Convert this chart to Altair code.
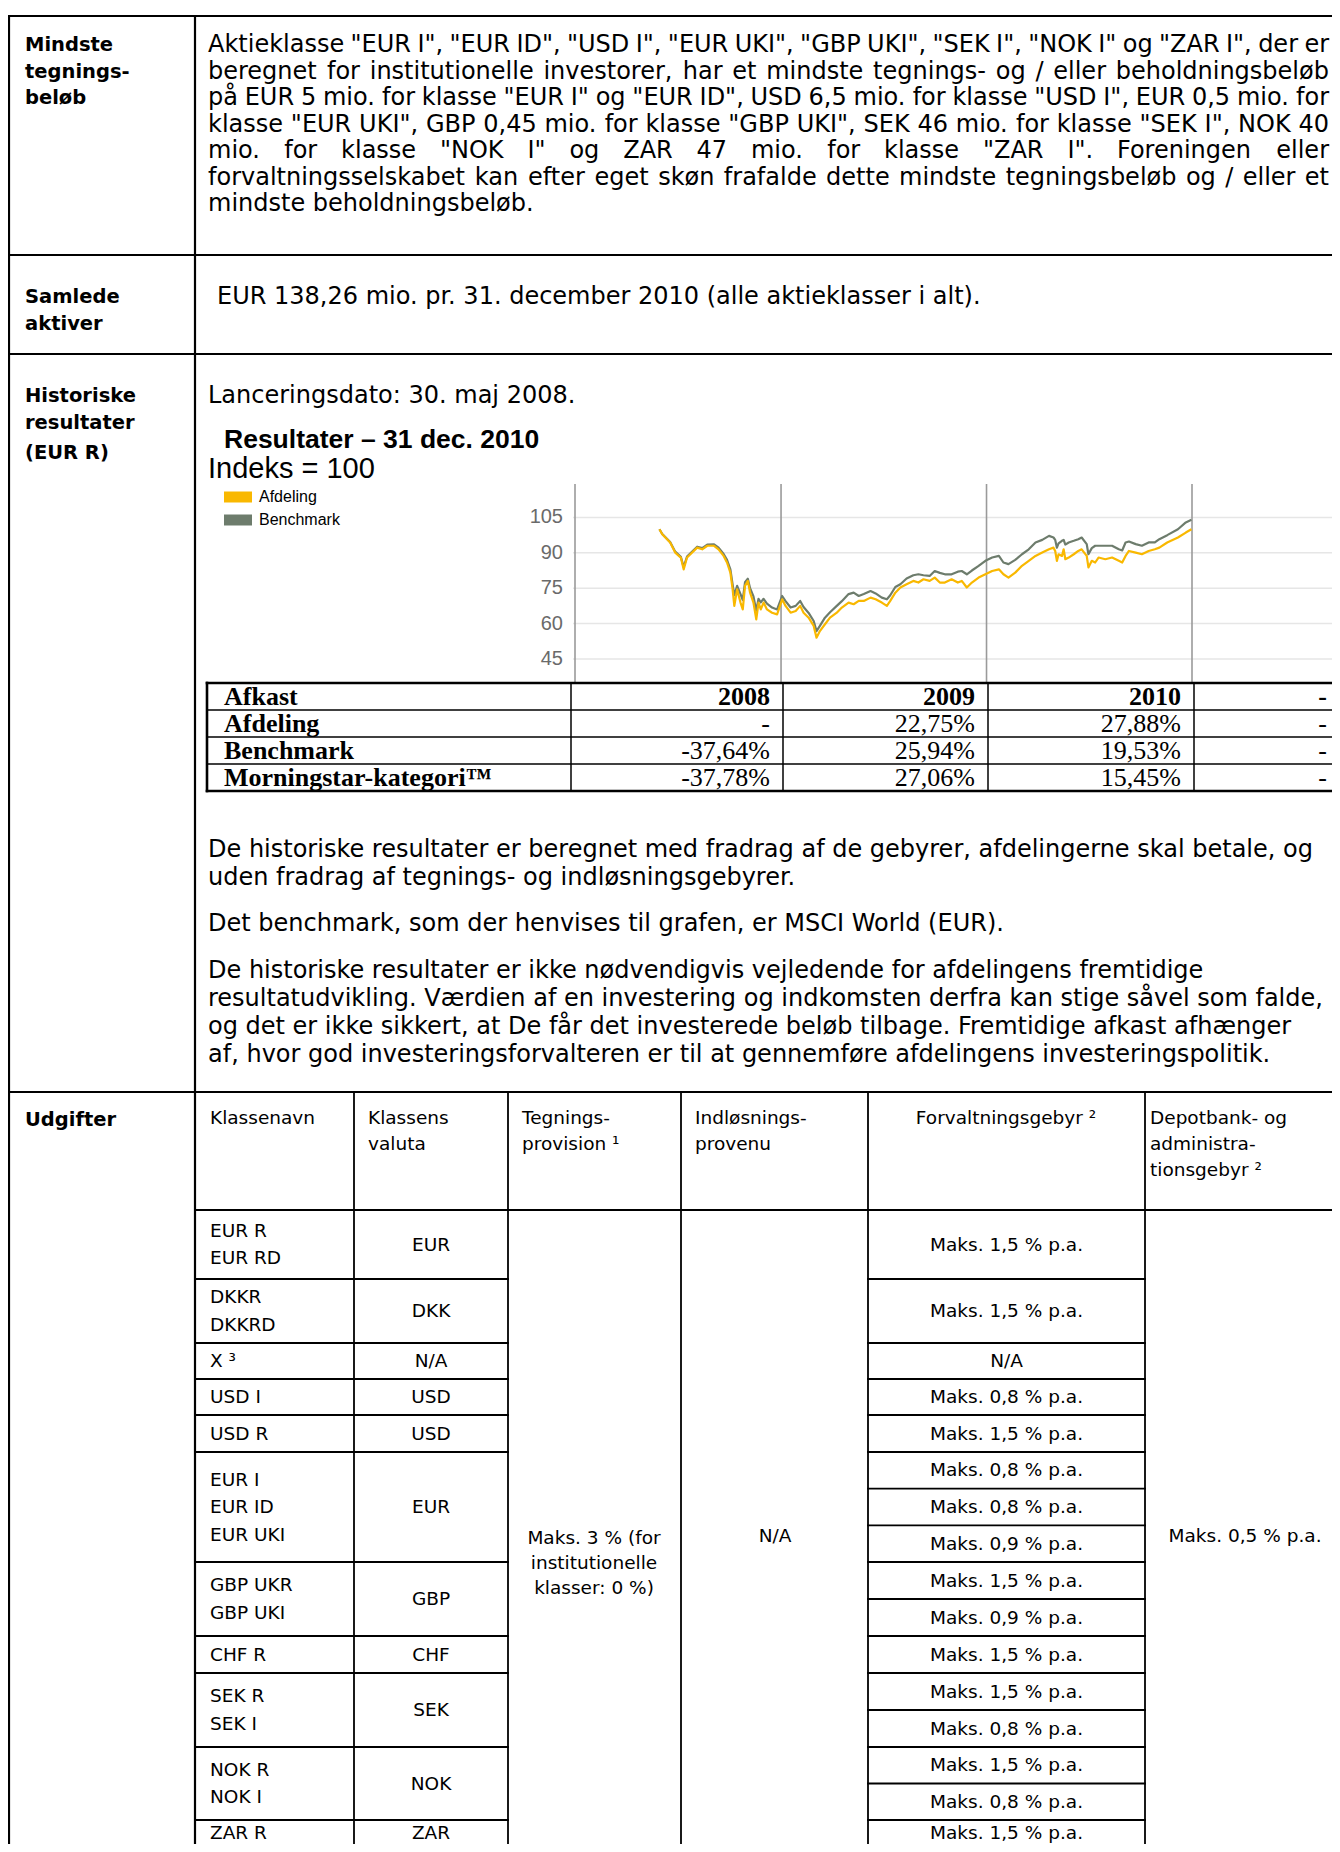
import altair as alt
import pandas as pd

# ------------------------------------------------------------------ page frame
PAGE_W, PAGE_H = 1324, 1836
M = 8
BODY = "DejaVu Sans"
ARIAL = "Liberation Sans"
TIMES = "Liberation Serif"
BODY_SIZE = 24
TBL_SIZE = 18.5

# ------------------------------------------------------------------ chart data
dates = ["2008-05-30","2008-06-04","2008-06-18","2008-06-27","2008-07-07","2008-07-12","2008-07-18","2008-07-24",
         "2008-08-05","2008-08-14","2008-08-23","2008-09-04","2008-09-12","2008-09-21","2008-09-27","2008-10-03",
         "2008-10-07","2008-10-10","2008-10-15","2008-10-21","2008-10-25","2008-10-29","2008-11-03","2008-11-07",
         "2008-11-13","2008-11-18","2008-11-22","2008-11-26","2008-12-01","2008-12-07","2008-12-16","2008-12-25",
         "2009-01-03","2009-01-09","2009-01-18","2009-01-27","2009-02-04","2009-02-10","2009-02-19","2009-02-28",
         "2009-03-05","2009-03-11","2009-03-20","2009-03-29","2009-04-10","2009-04-19","2009-05-01","2009-05-10",
         "2009-05-19","2009-05-28","2009-06-09","2009-06-18","2009-06-29","2009-07-08","2009-07-14","2009-07-23",
         "2009-08-01","2009-08-12","2009-08-24","2009-09-02","2009-09-11","2009-09-22","2009-10-01","2009-10-10",
         "2009-10-19","2009-10-31","2009-11-11","2009-11-18","2009-11-27","2009-12-06","2009-12-18","2009-12-30",
         "2010-01-11","2010-01-23","2010-01-31","2010-02-09","2010-02-21","2010-03-05","2010-03-17","2010-03-29",
         "2010-04-10","2010-04-22","2010-04-30","2010-05-03","2010-05-06","2010-05-09","2010-05-15","2010-05-18",
         "2010-05-21","2010-05-27","2010-06-05","2010-06-13","2010-06-19","2010-06-28","2010-07-01","2010-07-07",
         "2010-07-13","2010-07-19","2010-07-31","2010-08-12","2010-08-24","2010-08-30","2010-09-05","2010-09-11",
         "2010-09-23","2010-10-04","2010-10-16","2010-10-27","2010-11-04","2010-11-18","2010-12-07","2010-12-21",
         "2010-12-31"]
afdeling = [100.0, 97.9, 94.4, 90.1, 88.0, 83.0, 88.0, 89.4, 92.2, 91.5, 93.0, 93.0, 91.5, 88.7, 85.9, 81.6,
            74.5, 67.5, 74.5, 68.9, 66.0, 76.0, 78.1, 73.1, 68.9, 61.8, 68.9, 66.0, 68.9, 66.0, 64.6, 63.9,
            70.3, 67.5, 64.6, 65.3, 67.5, 64.6, 62.5, 59.0, 54.0, 56.8, 59.7, 62.5, 64.6, 66.8, 68.9, 68.2,
            69.6, 69.6, 71.0, 70.3, 68.9, 67.5, 69.6, 73.1, 75.3, 76.7, 78.1, 77.4, 78.8, 78.1, 79.5, 77.4,
            77.4, 78.8, 77.4, 78.1, 75.3, 77.4, 79.5, 80.9,
            82.3, 83.0, 80.9, 79.5, 81.6, 84.5, 86.6, 88.7, 90.1, 91.5, 92.2, 90.8, 86.6, 89.4, 88.7, 91.5,
            87.3, 88.0, 89.4, 90.8, 91.5, 88.7, 83.8, 86.6, 85.9, 88.0, 87.3, 88.0, 86.6, 85.9, 88.7, 90.8,
            90.1, 89.4, 90.8, 91.5, 92.2, 94.4, 96.5, 98.6, 100.0]
benchmark = [100.0, 98.0, 94.6, 90.5, 88.3, 84.0, 88.4, 89.8, 92.6, 92.0, 93.5, 93.6, 92.2, 89.5, 87.0, 83.0,
             76.5, 72.0, 76.0, 72.5, 70.0, 77.5, 79.0, 75.0, 71.5, 65.5, 70.5, 69.0, 70.5, 68.5, 66.8, 66.0,
             71.7, 69.5, 66.8, 67.5, 69.6, 67.0, 64.5, 61.1, 56.8, 59.0, 62.5, 64.8, 67.5, 69.5, 72.5, 73.1,
             71.7, 72.5, 73.8, 72.8, 71.0, 70.3, 72.0, 75.5, 76.7, 79.1, 80.5, 80.9, 80.5, 80.2, 82.3, 81.5,
             80.9, 80.9, 82.0, 82.3, 80.9, 82.5, 84.5, 86.6,
             88.0, 88.7, 85.9, 85.2, 87.0, 89.4, 91.5, 94.4, 95.5, 97.2, 96.5, 95.5, 92.2, 94.0, 95.1, 95.5,
             93.5, 94.4, 95.1, 95.8, 96.5, 93.7, 89.4, 92.0, 93.0, 93.0, 93.0, 93.0, 91.5, 91.0, 94.4, 94.8,
             93.7, 93.0, 94.4, 94.4, 95.8, 97.5, 100.0, 102.9, 104.0]
series_names = ["Afdeling", "Benchmark"]
series_colors = ["#F9B800", "#6D7C6C"]
year_lines = ["2008-01-01", "2009-01-01", "2010-01-01", "2011-01-01"]
y_ticks = [105, 90, 75, 60, 45]

# ------------------------------------------------------------------ table data
afkast_header = ["2008", "2009", "2010", "-"]
afkast_labels = ["Afdeling", "Benchmark", "Morningstar-kategori\u2122"]
afkast_values = [["-", "22,75%", "27,88%", "-"],
                 ["-37,64%", "25,94%", "19,53%", "-"],
                 ["-37,78%", "27,06%", "15,45%", "-"]]

class_names = [["EUR R", "EUR RD"], ["DKKR", "DKKRD"], ["X \u00b3"], ["USD I"], ["USD R"],
               ["EUR I", "EUR ID", "EUR UKI"], ["GBP UKR", "GBP UKI"], ["CHF R"], ["SEK R", "SEK I"],
               ["NOK R", "NOK I"], ["ZAR R"]]
currencies = ["EUR", "DKK", "N/A", "USD", "USD", "EUR", "GBP", "CHF", "SEK", "NOK", "ZAR"]
mgmt_fees = [["Maks. 1,5 % p.a."], ["Maks. 1,5 % p.a."], ["N/A"], ["Maks. 0,8 % p.a."], ["Maks. 1,5 % p.a."],
             ["Maks. 0,8 % p.a.", "Maks. 0,8 % p.a.", "Maks. 0,9 % p.a."],
             ["Maks. 1,5 % p.a.", "Maks. 0,9 % p.a."], ["Maks. 1,5 % p.a."],
             ["Maks. 1,5 % p.a.", "Maks. 0,8 % p.a."], ["Maks. 1,5 % p.a.", "Maks. 0,8 % p.a."],
             ["Maks. 1,5 % p.a."]]
subscription_fee = ["Maks. 3 % (for", "institutionelle", "klasser: 0 %)"]
redemption = "N/A"
depot_fee = "Maks. 0,5 % p.a."

row1_lines = [
    'Aktieklasse "EUR I", "EUR ID", "USD I", "EUR UKI", "GBP UKI", "SEK I", "NOK I" og "ZAR I", der er',
    'beregnet for institutionelle investorer, har et mindste tegnings- og / eller beholdningsbeløb',
    'på EUR 5 mio. for klasse "EUR I" og "EUR ID", USD 6,5 mio. for klasse "USD I", EUR 0,5 mio. for',
    'klasse "EUR UKI", GBP 0,45 mio. for klasse "GBP UKI", SEK 46 mio. for klasse "SEK I", NOK 40',
    'mio. for klasse "NOK I" og ZAR 47 mio. for klasse "ZAR I". Foreningen eller',
    'forvaltningsselskabet kan efter eget skøn frafalde dette mindste tegningsbeløb og / eller et',
    'mindste beholdningsbeløb.',
]
para_lines = [
    "De historiske resultater er beregnet med fradrag af de gebyrer, afdelingerne skal betale, og",
    "uden fradrag af tegnings- og indløsningsgebyrer.",
    "Det benchmark, som der henvises til grafen, er MSCI World (EUR).",
    "De historiske resultater er ikke nødvendigvis vejledende for afdelingens fremtidige",
    "resultatudvikling. Værdien af en investering og indkomsten derfra kan stige såvel som falde,",
    "og det er ikke sikkert, at De får det investerede beløb tilbage. Fremtidige afkast afhænger",
    "af, hvor god investeringsforvalteren er til at gennemføre afdelingens investeringspolitik.",
]

# ------------------------------------------------------------------ layout (page px)
TOP, R1B, R2B, R3B, BOT = 16, 255, 354, 1092, 1860
LEFT, DIV, RIGHT = 9, 195, 1345
CH_TOP, CH_BOT = 484, 683
AFK_ROWS = [683, 710, 737, 764, 791]
AFK_COLS = [207, 571, 783, 988, 1194, 1345]
UDG_COLS = [195, 354, 508, 681, 868, 1145, 1345]
UDG_HEAD_B = 1210
UDG_GROUPS = [1210, 1279, 1343, 1379, 1415, 1452, 1562, 1636, 1673, 1747, 1820, 1857]
ROW1_Y0, ROW1_DY = 45, 26.5

# DejaVu Sans advance widths (em) for justification
CW = {" ": .318, '"': .46, "%": .95, "(": .39, ")": .39, ",": .318, "-": .361, ".": .318, "/": .337, ":": .337}
CW.update({d: .636 for d in "0123456789"})
CW.update(dict(zip("ABCDEFGHIJKLMNOPQRSTUVWXYZ",
                   [.684, .686, .698, .770, .632, .575, .775, .752, .295, .295, .656, .557, .863, .748, .787,
                    .603, .787, .695, .635, .611, .732, .684, .989, .685, .611, .685])))
CW.update(dict(zip("abcdefghijklmnopqrstuvwxyz",
                   [.613, .635, .550, .635, .615, .352, .635, .634, .278, .278, .579, .278, .974, .634, .612,
                    .635, .635, .411, .521, .392, .634, .592, .818, .592, .592, .525])))
CW.update({"ø": .612, "å": .613, "æ": .982})


def tw(s, size):
    return sum(CW.get(c, 0.6) for c in s) * size


def justify(line, x0, x1, y, size):
    words = line.split(" ")
    widths = [tw(w, size) for w in words]
    gap = (x1 - x0 - sum(widths)) / (len(words) - 1)
    out, x = [], x0
    for w, wd in zip(words, widths):
        out.append((x, y, w))
        x += wd + gap
    return out


XS = alt.Scale(domain=[M, M + PAGE_W], nice=False, zero=False)
YS = alt.Scale(domain=[M, M + PAGE_H], nice=False, zero=False, reverse=True)
XT = alt.Scale(domain=[alt.DateTime(year=2008, month=1, date=1), alt.DateTime(year=2011, month=1, date=1)],
               range=[575 - M, 1192 - M])
YI = alt.Scale(domain=[35, 115], range=[682.5 - M, 493.9 - M], nice=False, zero=False)


def txt(rows, font=BODY, size=BODY_SIZE, weight="normal", align="left", color="black"):
    df = pd.DataFrame(rows, columns=["x", "y", "t"])
    return alt.Chart(df).mark_text(font=font, fontSize=size, fontWeight=weight, align=align,
                                   baseline="middle", color=color).encode(
        x=alt.X("x:Q", scale=XS, axis=None),
        y=alt.Y("y:Q", scale=YS, axis=None),
        text="t:N")


def rules(segs, width=2.0, color="black"):
    df = pd.DataFrame(segs, columns=["x", "y", "x2", "y2"])
    return alt.Chart(df).mark_rule(strokeWidth=width, color=color, strokeCap="square").encode(
        x=alt.X("x:Q", scale=XS, axis=None), x2="x2:Q",
        y=alt.Y("y:Q", scale=YS, axis=None), y2="y2:Q")


layers = []

# ---------------- outer table lines
outer = [(LEFT, TOP, RIGHT, TOP), (LEFT, R1B, RIGHT, R1B), (LEFT, R2B, RIGHT, R2B), (LEFT, R3B, RIGHT, R3B),
         (LEFT, TOP, LEFT, BOT), (DIV, TOP, DIV, BOT)]
layers.append(rules(outer, 2.2))

# ---------------- row labels
labels = [(25, ROW1_Y0, "Mindste"), (25, ROW1_Y0 + ROW1_DY, "tegnings-"), (25, ROW1_Y0 + 2 * ROW1_DY, "beløb"),
          (25, 297, "Samlede"), (25, 324, "aktiver"),
          (25, 396, "Historiske"), (25, 423, "resultater"), (25, 453, "(EUR R)"),
          (25, 1120, "Udgifter")]
layers.append(txt(labels, size=19.5, weight="bold"))

# ---------------- body text
body = []
for i, ln in enumerate(row1_lines[:-1]):
    body += justify(ln, 208, 1329, ROW1_Y0 + ROW1_DY * i, BODY_SIZE)
body.append((208, ROW1_Y0 + ROW1_DY * 6, row1_lines[-1]))
body.append((217, 297, "EUR 138,26 mio. pr. 31. december 2010 (alle aktieklasser i alt)."))
body.append((208, 396, "Lanceringsdato: 30. maj 2008."))
para_y = [850, 878, 924, 971, 999, 1027, 1055]
body += [(208, y, t) for y, t in zip(para_y, para_lines)]
layers.append(txt(body))

# ---------------- chart title
layers.append(txt([(224, 440, "Resultater \u2013 31 dec. 2010")], font=ARIAL, size=26.5, weight="bold"))
layers.append(txt([(208, 469, "Indeks = 100")], font=ARIAL, size=29))

# ---------------- chart: grid, year lines, labels, series
grid_df = pd.DataFrame({"v": y_ticks})
layers.append(alt.Chart(grid_df).mark_rule(color="#e6e6e6", strokeWidth=1.5).encode(
    y=alt.Y("v:Q", scale=YI, axis=None), x=alt.value(573 - M), x2=alt.value(PAGE_W)))
layers.append(alt.Chart(grid_df).mark_text(font=ARIAL, fontSize=20, color="#6a6a6a", align="right",
                                           baseline="middle").encode(
    y=alt.Y("v:Q", scale=YI, axis=None), x=alt.value(563 - M), text=alt.Text("v:Q", format="d")))
yl_df = pd.DataFrame({"d": pd.to_datetime(year_lines)})
layers.append(alt.Chart(yl_df).mark_rule(color="#9a9a9a", strokeWidth=1.6).encode(
    x=alt.X("d:T", scale=XT, axis=None), y=alt.value(CH_TOP - M), y2=alt.value(CH_BOT - M)))

color_scale = alt.Scale(domain=series_names, range=series_colors)
line_df = pd.DataFrame({
    "date": pd.to_datetime(dates + dates),
    "value": benchmark + afdeling,
    "series": ["Benchmark"] * len(dates) + ["Afdeling"] * len(dates),
})
layers.append(alt.Chart(line_df).mark_line(strokeWidth=2.2, strokeJoin="round").encode(
    x=alt.X("date:T", scale=XT, axis=None),
    y=alt.Y("value:Q", scale=YI, axis=None),
    color=alt.Color("series:N", scale=color_scale, legend=None)))

# legend carrier: invisible filled points at the first observation; the legend shows filled swatches
key_df = pd.DataFrame({"date": pd.to_datetime([dates[0], dates[0]]),
                       "value": [afdeling[0], benchmark[0]],
                       "series": series_names})
layers.append(alt.Chart(key_df).mark_point(filled=True, opacity=0).encode(
    x=alt.X("date:T", scale=XT, axis=None),
    y=alt.Y("value:Q", scale=YI, axis=None),
    color=alt.Color("series:N", scale=color_scale,
                    legend=alt.Legend(orient="none", legendX=222, legendY=481, title=None,
                                      symbolType="M-2.8,-1.1H2.8V1.1H-2.8Z", symbolSize=100,
                                      symbolOpacity=1, symbolStrokeWidth=0, labelFont=ARIAL,
                                      labelFontSize=16, labelColor="black", labelOffset=13,
                                      rowPadding=7, padding=0))))

# ---------------- Afkast table
afk_lines = [(AFK_COLS[0], AFK_ROWS[0], RIGHT, AFK_ROWS[0]), (AFK_COLS[0], AFK_ROWS[-1], RIGHT, AFK_ROWS[-1]),
             (AFK_COLS[0], AFK_ROWS[0], AFK_COLS[0], AFK_ROWS[-1])]
layers.append(rules(afk_lines, 2.6))
afk_inner = [(AFK_COLS[0], y, RIGHT, y) for y in AFK_ROWS[1:-1]]
afk_inner += [(x, AFK_ROWS[0], x, AFK_ROWS[-1]) for x in AFK_COLS[1:-1]]
layers.append(rules(afk_inner, 1.5))
row_c = [(a + b) / 2 for a, b in zip(AFK_ROWS[:-1], AFK_ROWS[1:])]
val_x = [AFK_COLS[2] - 13, AFK_COLS[3] - 13, AFK_COLS[4] - 13, 1327]
layers.append(txt([(224, row_c[0], "Afkast")] + [(224, row_c[i + 1], t) for i, t in enumerate(afkast_labels)],
                  font=TIMES, size=26, weight="bold"))
layers.append(txt([(val_x[j], row_c[0], t) for j, t in enumerate(afkast_header)],
                  font=TIMES, size=26, weight="bold", align="right"))
layers.append(txt([(val_x[j], row_c[i + 1], t) for i, r in enumerate(afkast_values) for j, t in enumerate(r)],
                  font=TIMES, size=26, align="right"))

# ---------------- Udgifter table
udg_lines = [(x, R3B, x, BOT) for x in UDG_COLS[1:-1]]
udg_lines.append((DIV, UDG_HEAD_B, RIGHT, UDG_HEAD_B))
for y in UDG_GROUPS[1:-1]:
    udg_lines.append((DIV, y, UDG_COLS[2], y))
    udg_lines.append((UDG_COLS[4], y, UDG_COLS[5], y))
for gi, fees in enumerate(mgmt_fees):
    top, bot = UDG_GROUPS[gi], UDG_GROUPS[gi + 1]
    for k in range(1, len(fees)):
        y = top + (bot - top) * k / len(fees)
        udg_lines.append((UDG_COLS[4], y, UDG_COLS[5], y))
layers.append(rules(udg_lines, 1.8))

HY = [1118, 1144, 1170]
head_left = [(210, HY[0], "Klassenavn"), (368, HY[0], "Klassens"), (368, HY[1], "valuta"),
             (522, HY[0], "Tegnings-"), (522, HY[1], "provision \u00b9"),
             (695, HY[0], "Indløsnings-"), (695, HY[1], "provenu"),
             (1150, HY[0], "Depotbank- og"), (1150, HY[1], "administra-"), (1150, HY[2], "tionsgebyr \u00b2")]
cls_rows, cur_rows, fee_rows = [], [], []
for gi in range(len(class_names)):
    top, bot = UDG_GROUPS[gi], UDG_GROUPS[gi + 1]
    c = min((top + bot) / 2, 1833)
    n = len(class_names[gi])
    for k, name in enumerate(class_names[gi]):
        cls_rows.append((210, c + (k - (n - 1) / 2) * 27.5, name))
    cur_rows.append(((UDG_COLS[1] + UDG_COLS[2]) / 2, c, currencies[gi]))
    nf = len(mgmt_fees[gi])
    for k, f in enumerate(mgmt_fees[gi]):
        fee_rows.append(((UDG_COLS[4] + UDG_COLS[5]) / 2, min(top + (bot - top) * (k + 0.5) / nf, 1833), f))
layers.append(txt(head_left + cls_rows, size=TBL_SIZE))
center_rows = [(1006, HY[0], "Forvaltningsgebyr \u00b2")] + cur_rows + fee_rows
center_rows += [(594, 1538 + 25 * i, t) for i, t in enumerate(subscription_fee)]
center_rows += [(775, 1536, redemption), (1245, 1536, depot_fee)]
layers.append(txt(center_rows, size=TBL_SIZE, align="center"))

chart = alt.layer(*layers).resolve_scale(x="independent", y="independent", color="independent").properties(
    width=PAGE_W, height=PAGE_H, padding=0, autosize=alt.AutoSizeParams(type="none"),
).configure_view(stroke=None)

chart.save("out.html", embed_options={"renderer": "svg", "actions": False})
